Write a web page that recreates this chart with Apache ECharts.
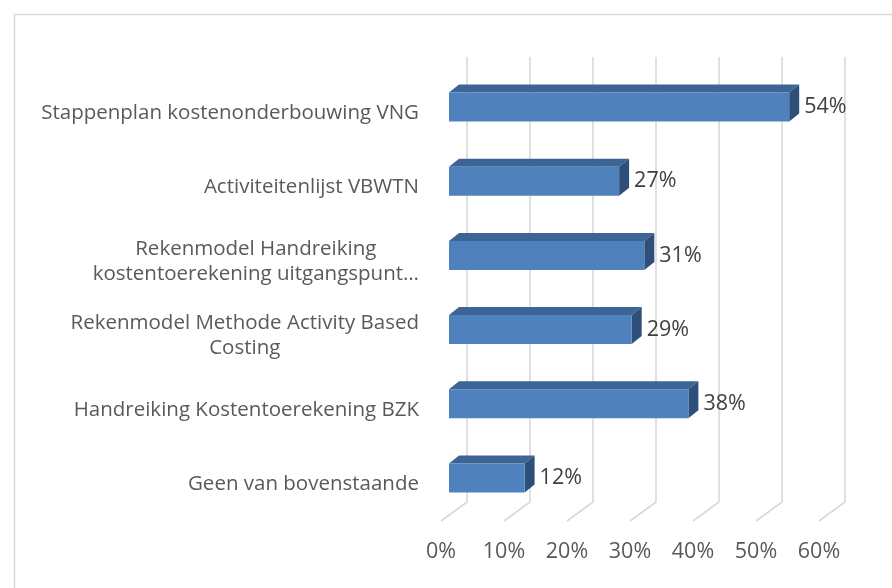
<!DOCTYPE html>
<html>
<head>
<meta charset="utf-8">
<script src="https://cdn.jsdelivr.net/npm/echarts@6/dist/echarts.min.js"></script>
<style>
  html, body { margin: 0; padding: 0; background: #fff; }
  #chart { width: 892px; height: 588px; }
</style>
</head>
<body>
<div id="chart"></div>
<script>
var chart = echarts.init(document.getElementById('chart'));

// data
var categories = [
  'Stappenplan kostenonderbouwing VNG',
  'Activiteitenlijst VBWTN',
  'Rekenmodel Handreiking\nkostentoerekening uitgangspunt…',
  'Rekenmodel Methode Activity Based\nCosting',
  'Handreiking Kostentoerekening BZK',
  'Geen van bovenstaande'
];
var values = [54, 27, 31, 29, 38, 12];
var ticks = [0, 10, 20, 30, 40, 50, 60];

var FONT = '"Open Sans"';
var FSIZE = 20.5;   // category text
var NSIZE = 21.5;   // numbers
var DEPTH = [26, -19];   // front plane -> back wall
var BAR_OFF = [8, -6];   // front face of bar behind front plane
var BAR_D = [10, -8];    // bar depth
var BAR_H = 29;

function gridItem(params, api) {
  var cs = params.coordSys;
  var p = api.coord([api.value(0), 0]);
  var x = p[0];
  var yb = cs.y + cs.height;
  return {
    type: 'polyline',
    shape: { points: [
      [x + DEPTH[0], cs.y + DEPTH[1]],
      [x + DEPTH[0], yb + DEPTH[1]],
      [x, yb]
    ] },
    style: { stroke: '#d9d9d9', lineWidth: 1.6, fill: null },
    silent: true
  };
}

function barItem(params, api) {
  var v = api.value(0);
  var c = api.value(1);
  var p0 = api.coord([0, c]);
  var p1 = api.coord([v, c]);
  var x0 = p0[0] + BAR_OFF[0];
  var x1 = p1[0] + BAR_OFF[0];
  var yc = p1[1] + BAR_OFF[1];
  var yt = yc - BAR_H / 2, ybot = yc + BAR_H / 2;
  return {
    type: 'group',
    children: [
      { type: 'polygon', shape: { points: [[x0, yt], [x1, yt], [x1 + BAR_D[0], yt + BAR_D[1]], [x0 + BAR_D[0], yt + BAR_D[1]]] },
        style: { fill: '#3c6494' } },
      { type: 'polygon', shape: { points: [[x1, yt], [x1 + BAR_D[0], yt + BAR_D[1]], [x1 + BAR_D[0], ybot + BAR_D[1]], [x1, ybot]] },
        style: { fill: '#2f4f7b' } },
      { type: 'rect', shape: { x: x0, y: yt, width: x1 - x0, height: BAR_H },
        style: { fill: '#4f81bd' } },
      { type: 'text', x: x1 + BAR_D[0] + 5, y: yc,
        style: { text: v + '%', fill: '#404040', font: NSIZE + 'px ' + FONT, textAlign: 'left', textVerticalAlign: 'middle' } }
    ]
  };
}

var option = {
  animation: false,
  graphic: [{
    type: 'rect', left: 12, top: 12, silent: true,
    shape: { width: 900, height: 600 },
    style: { fill: null, stroke: '#d9d9d9', lineWidth: 1.5 }
  }],
  grid: { left: 441, right: 73, top: 76, bottom: 67, containLabel: false },
  xAxis: {
    type: 'value', min: 0, max: 60, interval: 10,
    axisLine: { show: false }, axisTick: { show: false }, splitLine: { show: false },
    axisLabel: { formatter: '{value}%', color: '#595959', fontSize: NSIZE, fontFamily: FONT, margin: 20 }
  },
  yAxis: {
    type: 'category', inverse: true,
    data: categories,
    axisLine: { show: false }, axisTick: { show: false },
    axisLabel: {
      margin: 22,
      formatter: function (s) {
        return s.split('\n').map(function (l) { return '{c|' + l + '}'; }).join('\n');
      },
      rich: { c: { align: 'center', color: '#595959', fontSize: FSIZE, fontFamily: FONT, lineHeight: 25 } }
    }
  },
  series: [
    {
      type: 'custom', renderItem: gridItem, z: 1,
      data: ticks.map(function (t) { return [t]; })
    },
    {
      type: 'custom', renderItem: barItem, z: 2,
      encode: { x: 0, y: 1 },
      data: values.map(function (v, i) { return [v, i]; })
    }
  ]
};
chart.setOption(option);
</script>
</body>
</html>
